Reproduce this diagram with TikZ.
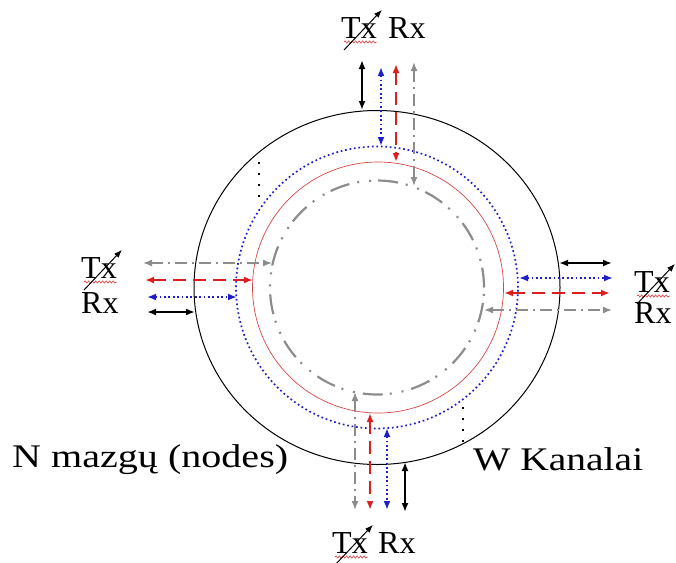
\documentclass[tikz,border=0pt]{standalone}
\usepackage{fontspec}
\setmainfont{Liberation Serif}
\usetikzlibrary{arrows.meta,decorations.pathmorphing}

\begin{document}
\begin{tikzpicture}[x=1pt,y=-1pt,
  lbl/.style={inner sep=0pt, anchor=base west, font=\fontsize{32}{36}\selectfont},
  caption/.style={inner sep=0pt, anchor=base west, font=\fontsize{33}{38}\selectfont},
  both/.style={{Latex[length=9pt,width=7pt]}-{Latex[length=9pt,width=7pt]}},
  blackarr/.style={both, line width=1.8pt, black},
  bluearr/.style={both, line width=1.8pt, chanblue, dash pattern=on 1.8pt off 2.6pt},
  redarr/.style={both, line width=2.4pt, chanred, dash pattern=on 13pt off 7pt},
  grayarr/.style={both, line width=1.6pt, changray, dash pattern=on 12pt off 5pt on 2pt off 5pt},
  antenna/.style={-{Latex[length=8pt,width=6pt]}, line width=1pt, black},
  squiggle/.style={chanred, line width=0.5pt, decorate,
    decoration={snake, amplitude=1.2pt, segment length=3.5pt}},
  marker/.style={black, line width=2pt, dash pattern=on 2pt off 9pt},
]
\definecolor{chanblue}{RGB}{30,30,200}
\definecolor{chanred}{RGB}{220,30,30}
\definecolor{ringred}{RGB}{215,70,70}
\definecolor{changray}{RGB}{140,140,140}
\useasboundingbox (0,0) rectangle (676,562);

% rings
\coordinate (c) at (377,287.5);
\draw[black, line width=1pt] (c) ellipse [x radius=183pt, y radius=177pt];
\draw[chanblue, line width=1.7pt, dash pattern=on 1.7pt off 2.8pt] (c) circle [radius=141pt];
\draw[ringred, line width=0.7pt] (378,287.5) circle [radius=125.5pt];
\draw[changray, line width=2.2pt,
  dash pattern=on 20pt off 7pt on 2pt off 10pt on 2pt off 8pt] (c) circle [radius=107pt];

% dotted channel markers
\coordinate (mA1) at (259,162); \coordinate (mA2) at (259,198);
\coordinate (mB1) at (463,407); \coordinate (mB2) at (463,443);
\draw[marker] (mA1) -- (mA2);
\draw[marker] (mB1) -- (mB2);

% ---- top node
\coordinate (tk1) at (362,60);  \coordinate (tk2) at (362,110);
\coordinate (tb1) at (381,67);  \coordinate (tb2) at (381,146);
\coordinate (tr1) at (396,64);  \coordinate (tr2) at (396,162);
\coordinate (tg1) at (414,62);  \coordinate (tg2) at (414,186);
\draw[blackarr] (tk1) -- (tk2);
\draw[bluearr]  (tb1) -- (tb2);
\draw[redarr]   (tr1) -- (tr2);
\draw[grayarr]  (tg1) -- (tg2);
\node[lbl] (txT) at (341,38) {Tx};
\node[lbl] (rxT) at (388,38) {Rx};

% ---- left node
\coordinate (lg1) at (143,263); \coordinate (lg2) at (272,263);
\coordinate (lr1) at (145,280); \coordinate (lr2) at (253,280);
\coordinate (lb1) at (147,297); \coordinate (lb2) at (237,297);
\coordinate (lk1) at (147,312); \coordinate (lk2) at (195,312);
\draw[grayarr]  (lg1) -- (lg2);
\draw[redarr]   (lr1) -- (lr2);
\draw[bluearr]  (lb1) -- (lb2);
\draw[blackarr] (lk1) -- (lk2);
\node[lbl] (txL) at (81,278) {Tx};
\node[lbl] (rxL) at (81,313) {Rx};

% ---- right node
\coordinate (rk1) at (559,263); \coordinate (rk2) at (612,263);
\coordinate (rb1) at (519,278); \coordinate (rb2) at (613,278);
\coordinate (rr1) at (504,293); \coordinate (rr2) at (610,293);
\coordinate (rg1) at (484,310); \coordinate (rg2) at (612,310);
\draw[blackarr] (rk1) -- (rk2);
\draw[bluearr]  (rb1) -- (rb2);
\draw[redarr]   (rr1) -- (rr2);
\draw[grayarr]  (rg1) -- (rg2);
\node[lbl] (txR) at (634,292) {Tx};
\node[lbl] (rxR) at (634,323) {Rx};

% ---- bottom node
\coordinate (bg1) at (355,392); \coordinate (bg2) at (355,510);
\coordinate (br1) at (370,413); \coordinate (br2) at (370,510);
\coordinate (bb1) at (387,428); \coordinate (bb2) at (387,510);
\coordinate (bk1) at (405,462); \coordinate (bk2) at (405,512);
\draw[grayarr]  (bg1) -- (bg2);
\draw[redarr]   (br1) -- (br2);
\draw[bluearr]  (bb1) -- (bb2);
\draw[blackarr] (bk1) -- (bk2);
\node[lbl] (txB) at (332,553) {Tx};
\node[lbl] (rxB) at (378,553) {Rx};

% antennas and spelling marks on the Tx labels
\foreach \t in {txT,txL,txR,txB}{
  \draw[squiggle] ([shift={(3,4)}]\t.base west) -- ([shift={(0,4)}]\t.base east);
  \draw[antenna] ([shift={(3,12)}]\t.base west) -- ([shift={(5,-7)}]\t.north east);
}

% captions
\node[caption] (nodes) at (12,467) {\resizebox{276pt}{\height}{N mazgų (nodes)}};
\node[caption] (chan) at (473,470) {\resizebox{170pt}{\height}{W Kanalai}};
\end{tikzpicture}
\end{document}
